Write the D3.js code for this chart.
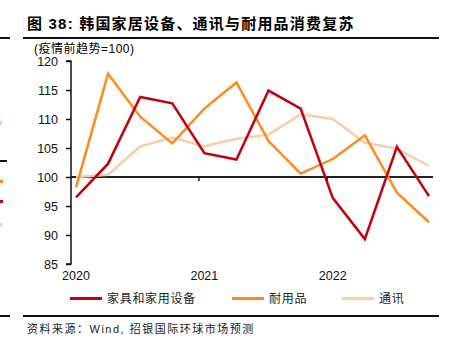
<!DOCTYPE html>
<html><head><meta charset="utf-8">
<script src="https://cdn.jsdelivr.net/npm/d3@7"></script>
<style>
body{margin:0;background:#fff;}
svg{display:block;font-family:"Liberation Sans",Arial,sans-serif;}
.cjk{font-family:"Liberation Sans","Noto Sans CJK SC",sans-serif;}
</style></head>
<body><svg id="c" width="460" height="351"></svg>
<script>
const quarters = ["2020Q1","2020Q2","2020Q3","2020Q4","2021Q1","2021Q2","2021Q3","2021Q4","2022Q1","2022Q2","2022Q3","2022Q4"];
const yearLabels = ["2020","2021","2022"];
const furniture = [96.5,102.3,113.8,112.7,104.1,103.0,114.9,111.8,96.4,89.3,105.2,96.7];
const durables  = [98.2,117.8,110.4,105.8,111.8,116.3,106.2,100.6,103.1,107.2,97.3,92.2];
const telecom   = [100.0,100.4,105.3,106.8,105.3,106.6,107.3,110.8,110.0,105.9,104.9,101.9];
const seriesNames = ["家具和家用设备","耐用品","通讯"];
const colors = ["#C4000C","#FF8A1F","#FACDA8"];
const yTicks = [85,90,95,100,105,110,115,120];

const svg = d3.select("#c");
const x = d3.scalePoint().domain(quarters).range([76,429]);
const y = d3.scaleLinear().domain([85,120]).range([264,61]);

// title
svg.append("text").attr("x",27).attr("y",29).attr("font-size",15).attr("font-weight","bold")
  .attr("letter-spacing",1.2).attr("class","cjk").text("图 38: 韩国家居设备、通讯与耐用品消费复苏");
svg.append("line").attr("x1",23).attr("x2",439).attr("y1",38).attr("y2",38).attr("stroke","#111").attr("stroke-width",2);
svg.append("line").attr("x1",0).attr("x2",10).attr("y1",38).attr("y2",38).attr("stroke","#111").attr("stroke-width",2);
svg.append("text").attr("x",34).attr("y",53).attr("font-size",12).attr("letter-spacing",0.5).attr("class","cjk").text("(疫情前趋势=100)");

// left-edge fragments
svg.append("rect").attr("x",0).attr("y",121).attr("width",2).attr("height",4).attr("fill",colors[2]);
svg.append("rect").attr("x",0).attr("y",160).attr("width",7).attr("height",2).attr("fill","#111");
svg.append("rect").attr("x",0).attr("y",180).attr("width",3).attr("height",3).attr("fill",colors[1]);
svg.append("rect").attr("x",0).attr("y",200).attr("width",3).attr("height",3).attr("fill",colors[0]);
svg.append("rect").attr("x",0).attr("y",223).attr("width",2).attr("height",4).attr("fill","#ddd");

// y axis
const ya = svg.append("g").attr("transform","translate(71,0)")
  .call(d3.axisLeft(y).tickValues(yTicks).tickSize(5).tickPadding(8));
ya.select(".domain").attr("stroke","#111").attr("stroke-width",1.5).attr("d","M-5,61H0V264H-5");
ya.selectAll(".tick line").attr("stroke","#111").attr("stroke-width",1.5);
ya.selectAll("text").attr("font-size",12.5).attr("fill","#111").attr("font-family","Liberation Sans, Arial, sans-serif");

// baseline at 100
svg.append("line").attr("x1",71).attr("x2",433).attr("y1",y(100)).attr("y2",y(100)).attr("stroke","#222").attr("stroke-width",2);
const step = x.step();
[3,7].forEach(i=>{
  const tx = x(quarters[i]) + step*0.83;
  svg.append("line").attr("x1",tx).attr("x2",tx).attr("y1",y(100)).attr("y2",y(100)+4).attr("stroke","#222").attr("stroke-width",1.5);
});
// year labels
yearLabels.forEach((lab,i)=>{
  svg.append("text").attr("x",x(quarters[i*4])).attr("y",280).attr("text-anchor","middle")
    .attr("font-size",12.5).attr("fill","#111").text(lab);
});

// lines
const line = d3.line().x((d,i)=>x(quarters[i])).y(d=>y(d));
[telecom,durables,furniture].forEach((s,k)=>{
  const ci = [2,1,0][k];
  svg.append("path").datum(s).attr("d",line).attr("fill","none")
    .attr("stroke",colors[ci]).attr("stroke-width",2.5).attr("stroke-linejoin","miter");
});

// legend
const legX = [70,232,342];
seriesNames.forEach((n,i)=>{
  svg.append("line").attr("x1",legX[i]).attr("x2",legX[i]+32).attr("y1",298.5).attr("y2",298.5)
    .attr("stroke",colors[i]).attr("stroke-width",3);
  svg.append("text").attr("x",legX[i]+37).attr("y",303).attr("font-size",12).attr("letter-spacing",0.7)
    .attr("class","cjk").attr("fill","#222").text(n);
});

// footer
svg.append("line").attr("x1",23).attr("x2",439).attr("y1",316).attr("y2",316).attr("stroke","#111").attr("stroke-width",2);
svg.append("line").attr("x1",0).attr("x2",10).attr("y1",316).attr("y2",316).attr("stroke","#111").attr("stroke-width",2);
svg.append("text").attr("x",27).attr("y",333).attr("font-size",11).attr("letter-spacing",1.5)
  .attr("class","cjk").attr("fill","#222").text("资料来源：Wind, 招银国际环球市场预测");
</script></body></html>
